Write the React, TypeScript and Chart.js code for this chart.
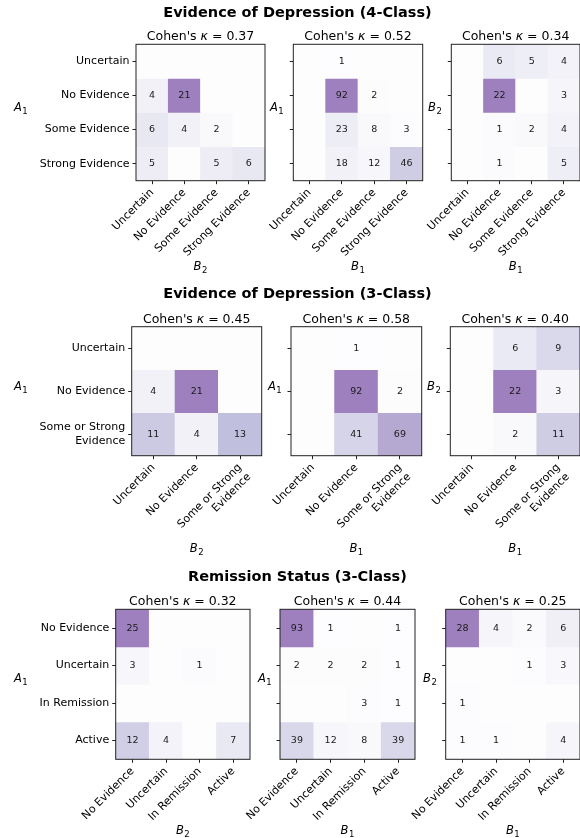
import React, { useEffect, useRef } from "react";
import { Chart, registerables } from "chart.js";

Chart.register(...registerables);

const FONT = "'DejaVu Sans', 'Liberation Sans', sans-serif";

// ---------- data ----------
const ROW_TITLES = [
  "Evidence of Depression (4-Class)",
  "Evidence of Depression (3-Class)",
  "Remission Status (3-Class)",
];

const DEP4_CLASSES: (string | string[])[] = ["Uncertain", "No Evidence", "Some Evidence", "Strong Evidence"];
const DEP3_CLASSES: (string | string[])[] = ["Uncertain", "No Evidence", ["Some or Strong", "Evidence"]];
const REM_CLASSES: (string | string[])[] = ["No Evidence", "Uncertain", "In Remission", "Active"];

// rows = y annotator, cols = x annotator
const DEP4_A1_B2 = [
  [0, 0, 0, 0],
  [4, 21, 0, 0],
  [6, 4, 2, 0],
  [5, 0, 5, 6],
];
const DEP4_A1_B1 = [
  [0, 1, 0, 0],
  [0, 92, 2, 0],
  [0, 23, 8, 3],
  [0, 18, 12, 46],
];
const DEP4_B2_B1 = [
  [0, 6, 5, 4],
  [0, 22, 0, 3],
  [0, 1, 2, 4],
  [0, 1, 0, 5],
];
const DEP3_A1_B2 = [
  [0, 0, 0],
  [4, 21, 0],
  [11, 4, 13],
];
const DEP3_A1_B1 = [
  [0, 1, 0],
  [0, 92, 2],
  [0, 41, 69],
];
const DEP3_B2_B1 = [
  [0, 6, 9],
  [0, 22, 3],
  [0, 2, 11],
];
const REM_A1_B2 = [
  [25, 0, 0, 0],
  [3, 0, 1, 0],
  [0, 0, 0, 0],
  [12, 4, 0, 7],
];
const REM_A1_B1 = [
  [93, 1, 0, 1],
  [2, 2, 2, 1],
  [0, 0, 3, 1],
  [39, 12, 8, 39],
];
const REM_B2_B1 = [
  [28, 4, 2, 6],
  [0, 0, 1, 3],
  [1, 0, 0, 0],
  [1, 1, 0, 4],
];

const KAPPA_DEP4 = [0.37, 0.52, 0.34];
const KAPPA_DEP3 = [0.45, 0.58, 0.4];
const KAPPA_REM = [0.32, 0.44, 0.25];

const PAIR_Y: [string, string][] = [["A", "1"], ["A", "1"], ["B", "2"]];
const PAIR_X: [string, string][] = [["B", "2"], ["B", "1"], ["B", "1"]];

// ---------- layout ----------
const W = 580;
const H = 838;
const ROW_LAYOUT = [
  {
    titleBase: 16.7, top: 44.3, bottom: 180.7,
    spans: [[136, 265], [293.3, 422.7], [451.3, 580.6]],
    yVarX: [14, 270, 428], yVarBase: 111, xVarBase: 270,
  },
  {
    titleBase: 298.3, top: 326.7, bottom: 455.7,
    spans: [[131.7, 261.7], [291, 421.7], [450.3, 580.5]],
    yVarX: [14, 268, 427], yVarBase: 390, xVarBase: 552,
  },
  {
    titleBase: 580.7, top: 609.3, bottom: 759.3,
    spans: [[115.7, 250], [280, 415], [445.7, 580]],
    yVarX: [14, 258, 423], yVarBase: 682, xVarBase: 834,
  },
];

// matplotlib "Purples" stops, drawn at alpha 0.5 over white
const PURPLES = [
  [252, 251, 253], [239, 237, 245], [218, 218, 235], [188, 189, 220], [158, 154, 200],
  [128, 125, 186], [106, 81, 163], [84, 39, 143], [63, 0, 125],
];
function cellColor(t: number): string {
  const tt = Math.max(0, Math.min(1, t));
  const p = tt * 8;
  const i = Math.min(7, Math.floor(p));
  const f = p - i;
  const c = PURPLES[i].map((v, k) => v + (PURPLES[i + 1][k] - v) * f);
  const b = c.map((v) => Math.round((v + 255) / 2));
  return `rgb(${b[0]},${b[1]},${b[2]})`;
}

type PanelSpec = {
  key: string;
  matrix: number[][];
  classes: (string | string[])[];
  kappa: number;
  yVar: [string, string];
  xVar: [string, string];
  showY: boolean;
  box: [number, number, number, number];
  yVarX: number;
  yVarBase: number;
  xVarBase: number;
  rowTitle?: { text: string; base: number };
};

function drawVar(ctx: CanvasRenderingContext2D, v: [string, string], x: number, base: number, align: "left" | "center") {
  ctx.font = `italic 11.5px ${FONT}`;
  const wA = ctx.measureText(v[0]).width;
  ctx.font = `8.5px ${FONT}`;
  const w1 = ctx.measureText(v[1]).width;
  const total = wA + w1 + 0.5;
  const x0 = align === "left" ? x : x - total / 2;
  ctx.textAlign = "left";
  ctx.textBaseline = "alphabetic";
  ctx.font = `italic 11.5px ${FONT}`;
  ctx.fillText(v[0], x0, base);
  ctx.font = `8.5px ${FONT}`;
  ctx.fillText(v[1], x0 + wA + 0.5, base + 2.5);
}

function Panel({ spec }: { spec: PanelSpec }) {
  const ref = useRef<HTMLCanvasElement | null>(null);
  useEffect(() => {
    if (!ref.current) return;
    const { matrix, classes, kappa, yVar, xVar, showY, box } = spec;
    const [l, t, r, b] = box;
    const n = matrix.length;
    const max = Math.max(...matrix.flat());
    const AXW = l;
    const AXH = H - b;
    const grid = {
      drawOnChartArea: false,
      drawTicks: true,
      tickLength: 3.5,
      tickColor: "#222",
      tickWidth: 1,
      color: "#222",
      offset: false,
    };
    const tickFont = { family: FONT, size: 11 };

    const deco = {
      id: "deco" + spec.key,
      afterDraw(chart: any) {
        const ctx: CanvasRenderingContext2D = chart.ctx;
        const { left, top, right, bottom } = chart.chartArea;
        const xs = chart.scales.x;
        const ys = chart.scales.y;
        ctx.save();
        // cell counts
        ctx.font = `9.5px ${FONT}`;
        ctx.textAlign = "center";
        ctx.textBaseline = "middle";
        ctx.fillStyle = "#1a1a1a";
        matrix.forEach((row, i) =>
          row.forEach((v, j) => {
            if (v > 0) ctx.fillText(String(v), xs.getPixelForValue(j), ys.getPixelForValue(i + 0.5));
          })
        );
        // frame
        ctx.strokeStyle = "#222";
        ctx.lineWidth = 1;
        ctx.strokeRect(left, top, right - left, bottom - top);
        // kappa title
        ctx.fillStyle = "#000";
        ctx.textBaseline = "alphabetic";
        ctx.textAlign = "left";
        const s1 = "Cohen's ";
        const s2 = "κ";
        const s3 = " = " + kappa.toFixed(2);
        ctx.font = `12.5px ${FONT}`;
        const w1 = ctx.measureText(s1).width;
        const w3 = ctx.measureText(s3).width;
        ctx.font = `italic 12.5px ${FONT}`;
        const w2 = ctx.measureText(s2).width;
        const x0 = (left + right) / 2 - (w1 + w2 + w3) / 2;
        const tb = top - 4;
        ctx.font = `12.5px ${FONT}`;
        ctx.fillText(s1, x0, tb);
        ctx.font = `italic 12.5px ${FONT}`;
        ctx.fillText(s2, x0 + w1, tb);
        ctx.font = `12.5px ${FONT}`;
        ctx.fillText(s3, x0 + w1 + w2, tb);
        // axis variable labels
        drawVar(ctx, yVar, spec.yVarX, spec.yVarBase, "left");
        drawVar(ctx, xVar, (left + right) / 2, spec.xVarBase, "center");
        // row title
        if (spec.rowTitle) {
          ctx.font = `bold 14.5px ${FONT}`;
          ctx.textAlign = "center";
          ctx.textBaseline = "alphabetic";
          ctx.fillText(spec.rowTitle.text, 297.5, spec.rowTitle.base);
        }
        ctx.restore();
      },
    };

    const chart = new Chart(ref.current, {
      type: "bar",
      data: {
        labels: classes as any,
        datasets: matrix.map((row, i) => ({
          label: "row" + i,
          data: row.map(() => [i, i + 1]) as any,
          backgroundColor: row.map((v) => cellColor(v / max)),
          borderWidth: 0,
          barPercentage: 1,
          categoryPercentage: 1,
          grouped: false,
        })),
      },
      options: {
        responsive: false,
        maintainAspectRatio: false,
        animation: false,
        devicePixelRatio: 1,
        events: [],
        layout: {
          padding: {
            left: 0,
            top: t,
            right: Math.max(0, W - r),
            bottom: 0,
          },
        },
        plugins: {
          legend: { display: false },
          tooltip: { enabled: false },
          title: { display: false },
        },
        scales: {
          x: {
            type: "category",
            offset: true,
            grid: grid as any,
            border: { display: false },
            ticks: {
              autoSkip: false,
              maxRotation: 45,
              minRotation: 45,
              padding: 2,
              color: "#000",
              font: tickFont,
            },
            afterFit: (s: any) => {
              s.height = AXH;
              s.paddingLeft = 0;
              s.paddingRight = 0;
              s.paddingTop = 0;
              s.paddingBottom = 0;
            },
          },
          y: {
            type: "linear",
            reverse: true,
            min: 0,
            max: n,
            grid: grid as any,
            border: { display: false },
            afterBuildTicks: (s: any) => {
              s.ticks = matrix.map((_, i) => ({ value: i + 0.5 }));
            },
            ticks: {
              padding: 3,
              color: "#000",
              font: tickFont,
              callback: (_v: any, idx: number) => (showY ? (classes[idx] as any) : ""),
            },
            afterFit: (s: any) => {
              s.width = AXW;
              s.paddingLeft = 0;
              s.paddingRight = 0;
              s.paddingTop = 0;
              s.paddingBottom = 0;
            },
          },
        },
      },
      plugins: [deco],
    });
    return () => chart.destroy();
  }, [spec]);
  return (
    <canvas
      ref={ref}
      width={W}
      height={H}
      style={{ position: "absolute", left: 0, top: 0, width: W, height: H, display: "block" }}
    />
  );
}

const ROW_DATA = [
  { matrices: [DEP4_A1_B2, DEP4_A1_B1, DEP4_B2_B1], classes: DEP4_CLASSES, kappas: KAPPA_DEP4 },
  { matrices: [DEP3_A1_B2, DEP3_A1_B1, DEP3_B2_B1], classes: DEP3_CLASSES, kappas: KAPPA_DEP3 },
  { matrices: [REM_A1_B2, REM_A1_B1, REM_B2_B1], classes: REM_CLASSES, kappas: KAPPA_REM },
];

const PANELS: PanelSpec[] = [];
ROW_DATA.forEach((row, ri) => {
  const lay = ROW_LAYOUT[ri];
  row.matrices.forEach((m, ci) => {
    PANELS.push({
      key: `p${ri}${ci}`,
      matrix: m,
      classes: row.classes,
      kappa: row.kappas[ci],
      yVar: PAIR_Y[ci],
      xVar: PAIR_X[ci],
      showY: ci === 0,
      box: [lay.spans[ci][0], lay.top, lay.spans[ci][1], lay.bottom],
      yVarX: lay.yVarX[ci],
      yVarBase: lay.yVarBase,
      xVarBase: lay.xVarBase,
      rowTitle: ci === 0 ? { text: ROW_TITLES[ri], base: lay.titleBase } : undefined,
    });
  });
});

export default function App() {
  return (
    <div
      style={{
        position: "absolute",
        left: 0,
        top: 0,
        width: W,
        height: H,
        overflow: "hidden",
        background: "#fff",
      }}
    >
      {PANELS.map((p) => (
        <Panel key={p.key} spec={p} />
      ))}
    </div>
  );
}
